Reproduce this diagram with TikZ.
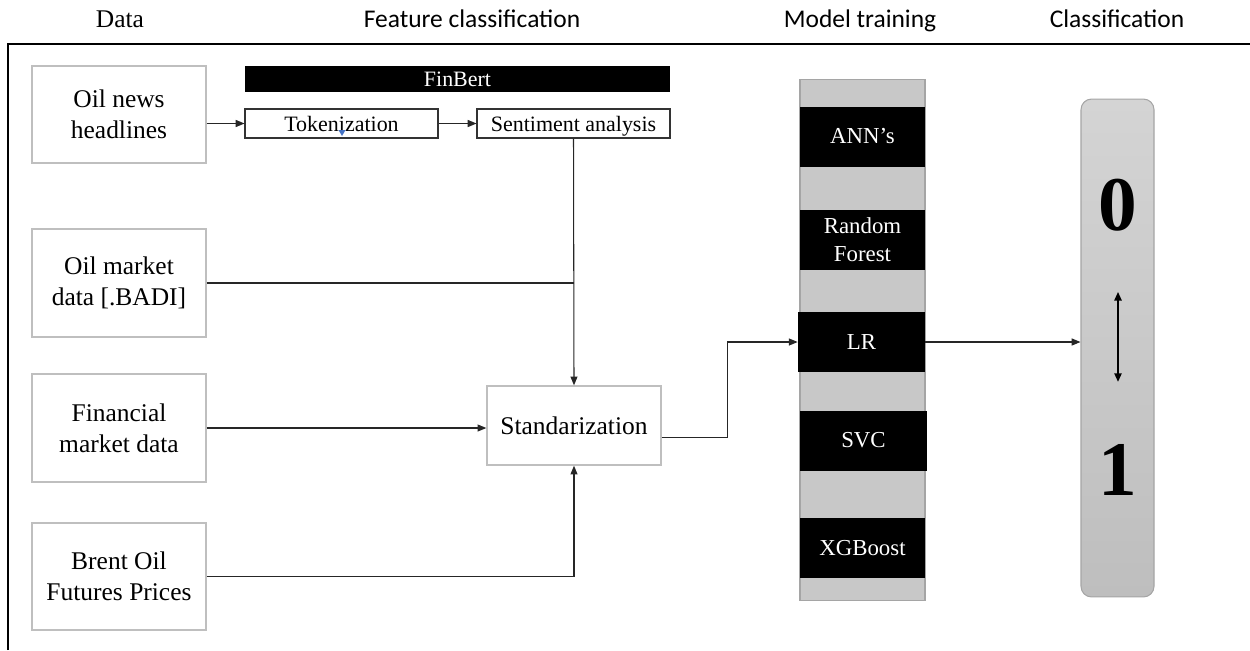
\documentclass[tikz,border=0pt]{standalone}
\usepackage{fontspec}
\setmainfont{Liberation Serif}
\newfontfamily\headfont{Carlito}
\usetikzlibrary{arrows.meta, positioning, calc}
\definecolor{boxline}{RGB}{191,191,191}
\definecolor{colfill}{RGB}{200,200,200}
\definecolor{colline}{RGB}{165,165,165}
\definecolor{cursorblue}{RGB}{68,114,196}
\tikzset{
  databox/.style={rectangle, draw=boxline, fill=white, line width=0.8pt,
                  minimum width=3.48cm, align=center, inner sep=2pt,
                  font=\fontsize{14.5}{17.5}\selectfont},
  stepbox/.style={rectangle, draw=black!80, fill=white, line width=0.6pt,
                  minimum width=3.86cm, minimum height=0.58cm, inner sep=1pt,
                  text height=2.1ex, text depth=0.2ex,
                  font=\fontsize{12.5}{14}\selectfont},
  modelbox/.style={rectangle, fill=black, text=white, minimum height=1.2cm,
                   align=center, inner sep=1pt,
                   font=\fontsize{13}{16}\selectfont},
  heading/.style={text height=1.6ex, text depth=0.3ex,
                  font=\headfont\fontsize{14.5}{16}\selectfont},
  arrow/.style={-{Triangle[length=5pt, width=4pt]}, line width=0.6pt, color=black!85},
}

\begin{document}
\begin{tikzpicture}[x=0.02cm, y=-0.02cm]
  \useasboundingbox (0,0) rectangle (1250,650);

  % headings and frame
  \node[text height=1.6ex, text depth=0.3ex, font=\fontsize{14.5}{16}\selectfont] (hdata) at (120,22) {Data};
  \node[heading] (hfeat) at (472,22) {Feature classification};
  \node[heading] (hmodel) at (860,22) {Model training};
  \node[heading] (hclass) at (1117,22) {Classification};
  \draw[line width=0.7pt] (8,650) -- (8,44) -- (1250,44);

  % data sources
  \node[databox, minimum height=1.94cm] (news) at (119,114.5) {Oil news\\headlines};
  \node[databox, minimum height=2.16cm] (market) at (119,283) {Oil market\\data [.BADI]};
  \node[databox, minimum height=2.16cm] (financial) at (119,428) {Financial\\market data};
  \node[databox, minimum height=2.14cm] (brent) at (119,576.5) {Brent Oil\\Futures Prices};

  % FinBert block
  \node[rectangle, fill=black, text=white, minimum width=8.5cm, minimum height=0.52cm,
        inner sep=0pt, font=\fontsize{12.5}{14}\selectfont] (finbert) at (457.5,79) {FinBert};
  \node[stepbox] (token) at (341.5,123.5) {Tokenization};
  \node[stepbox] (senti) at (573.5,123.5) {Sentiment analysis};
  \fill[cursorblue] (338.5,130) -- (345.5,130) -- (342,136) -- cycle;

  \node[databox, minimum height=1.58cm] (stand) at (574,425.5) {Standarization};

  % model column
  \node[rectangle, fill=colfill, draw=colline, line width=0.6pt,
        minimum width=2.5cm, minimum height=10.44cm] (models) at (862.5,340) {};
  \node[modelbox, minimum width=2.5cm] (ann) at (862.5,136.5) {ANN’s};
  \node[modelbox, minimum width=2.5cm] (rf) at (862.5,240) {Random\\Forest};
  \node[modelbox, minimum width=2.54cm] (lr) at (861.5,342) {LR};
  \node[modelbox, minimum width=2.54cm] (svc) at (863.5,440.5) {SVC};
  \node[modelbox, minimum width=2.5cm] (xgb) at (862.5,548) {XGBoost};

  % classification bar
  \node[rectangle, rounded corners=6pt, draw=colline, line width=0.6pt,
        top color={rgb,255:red,212;green,212;blue,212},
        bottom color={rgb,255:red,190;green,190;blue,190},
        minimum width=1.46cm, minimum height=9.96cm] (classif) at (1117.5,348) {};
  \node[font=\fontsize{44}{44}\selectfont\bfseries] (zero) at (1118,205) {0};
  \node[font=\fontsize{44}{44}\selectfont\bfseries] (one) at (1118,470) {1};
  \draw[{Triangle[length=5pt, width=4pt]}-{Triangle[length=5pt, width=4pt]}, line width=1.5pt,
        shorten <=31pt, shorten >=32pt] (zero.south) -- (one.north);

  % connectors
  \draw[arrow] (news.east |- token.west) -- (token.west);
  \draw[arrow] (token.east) -- (senti.west);
  \draw[arrow] (senti.south) -- (stand.north);
  \draw[line width=0.6pt, black!85] (market.east) -- (market.east -| senti.south);
  \draw[arrow] (financial.east) -- (financial.east -| stand.west);
  \draw[arrow] (brent.east) -| (stand.south);
  \draw[arrow] ([yshift=-7pt]stand.east) -- ++(66,0) |- (lr.west);
  \draw[arrow] (lr.east) -- (lr.east -| classif.west);
\end{tikzpicture}
\end{document}
